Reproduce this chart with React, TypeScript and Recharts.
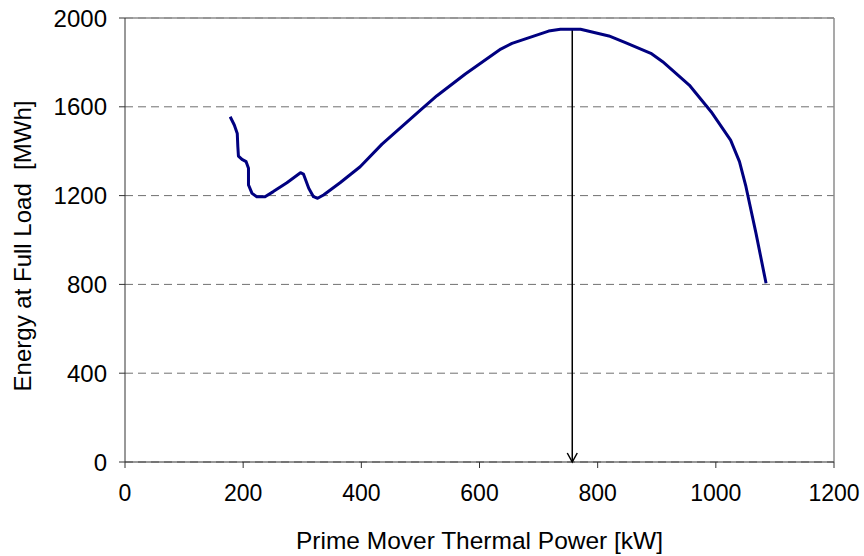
import { LineChart, Line, XAxis, YAxis, CartesianGrid, ReferenceLine, Label } from "recharts";

// curve: thermal power [kW] vs energy at full load [MWh]
const powerKw = [
  178, 185, 190, 191, 192, 198, 205, 209, 209, 215, 223, 237, 251, 274, 297, 302, 311, 319, 326, 336, 364,
  398, 435, 500, 528, 576, 636, 655, 717, 737, 771, 819, 847, 890, 910, 955, 992, 1025, 1040, 1051, 1068, 1085,
];
const energyMwh = [
  1555, 1518, 1480, 1420, 1378, 1363, 1353, 1323, 1248, 1210, 1195, 1195, 1218, 1258, 1303, 1297, 1233, 1195,
  1188, 1203, 1258, 1330, 1432, 1585, 1650, 1748, 1860, 1886, 1941, 1949, 1949, 1919, 1889, 1841, 1803, 1698,
  1578, 1450, 1353, 1240, 1030, 805,
];
// optimum marker: arrow from the curve peak down to the x axis
const arrowKw = [757, 757];
const arrowMwh = [1950, 0];

const xTicks = [0, 200, 400, 600, 800, 1000, 1200];
const yTicks = [0, 400, 800, 1200, 1600, 2000];

const curve = powerKw.map((x, i) => ({ x, y: energyMwh[i] }));
const arrow = arrowKw.map((x, i) => ({ x, y: arrowMwh[i] }));

const FONT = "'Liberation Sans', Arial, sans-serif";

const ArrowHead = (props: any) => {
  const { cx, cy, index } = props;
  if (index !== 1) return <g key={index} />;
  return (
    <path
      key={index}
      d={`M${cx - 5},${cy - 9} L${cx},${cy} L${cx + 5},${cy - 9}`}
      fill="none"
      stroke="#000"
      strokeWidth={1.5}
    />
  );
};

const YTitle = (props: any) => {
  const { viewBox } = props;
  const cx = 31;
  const cy = viewBox.y + viewBox.height / 2 + 6;
  return (
    <text
      x={cx}
      y={cy}
      textAnchor="middle"
      transform={`rotate(-90 ${cx} ${cy})`}
      fontSize={24}
      fontFamily={FONT}
      fill="#000"
      style={{ whiteSpace: "pre" }}
    >
      Energy at Full Load  [MWh]
    </text>
  );
};

export default function App() {
  return (
    <div style={{ position: "absolute", left: 0, top: 0, background: "#fff" }}>
      <LineChart width={864} height={556} margin={{ top: 18, right: 30, bottom: 0, left: 0 }}>
        <CartesianGrid horizontal vertical={false} stroke="#707070" strokeDasharray="8 5" />
        <XAxis
          type="number"
          dataKey="x"
          domain={[0, 1200]}
          ticks={xTicks}
          height={94}
          stroke="#333"
          tickSize={6}
          tickMargin={17}
          tick={{ fill: "#000", fontSize: 23, fontFamily: FONT }}
          allowDataOverflow
        >
          <Label
            value="Prime Mover Thermal Power [kW]"
            position="insideBottom"
            offset={7}
            style={{ fontSize: 24.5, fontFamily: FONT, fill: "#000" }}
          />
        </XAxis>
        <YAxis
          type="number"
          domain={[0, 2000]}
          ticks={yTicks}
          width={125}
          stroke="#333"
          tickSize={6}
          tickMargin={12}
          tick={{ fill: "#000", fontSize: 24, fontFamily: FONT }}
        >
          <Label content={YTitle} />
        </YAxis>
        <ReferenceLine y={2000} stroke="#8c8c8c" strokeWidth={1.5} />
        <ReferenceLine x={1200} stroke="#8c8c8c" strokeWidth={1.5} />
        <Line
          data={arrow}
          dataKey="y"
          type="linear"
          stroke="#000"
          strokeWidth={1.5}
          dot={ArrowHead}
          activeDot={false}
          isAnimationActive={false}
        />
        <Line
          data={curve}
          dataKey="y"
          type="linear"
          stroke="#000080"
          strokeWidth={3}
          strokeLinejoin="round"
          dot={false}
          activeDot={false}
          isAnimationActive={false}
        />
      </LineChart>
    </div>
  );
}
